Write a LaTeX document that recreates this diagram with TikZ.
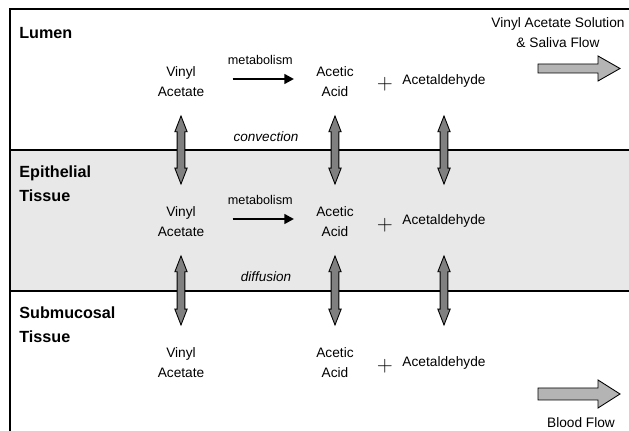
\documentclass[tikz,border=0pt]{standalone}
\usepackage{fontspec}
\setmainfont{Liberation Sans}
\usetikzlibrary{arrows.meta,calc}

\definecolor{bandgray}{HTML}{E8E8E8}
\definecolor{arrowgray}{HTML}{808080}
\definecolor{flowgray}{HTML}{B4B4B4}

\tikzset{
  species/.style={align=center, inner sep=0pt, font=\fontsize{7.8}{11.4}\selectfont},
  zonelabel/.style={anchor=west, align=left, inner sep=0pt, font=\fontsize{9.2}{13.6}\selectfont\bfseries},
  proclabel/.style={inner sep=0pt, font=\fontsize{7.7}{9}\selectfont\itshape},
  metab/.style={-{Triangle[length=5.5pt,width=5.5pt]}, line width=1.5pt, shorten <=0.56cm, shorten >=0.44cm},
  exchangearrow/.style={draw=black, fill=arrowgray, line width=0.5pt, to path={
    let \p1=(\tikztostart), \p2=(\tikztotarget) in
    (\x1,\y1) -- (\x1+3.5pt,\y1-9pt) -- (\x1+2.2pt,\y1-9pt) -- (\x2+2.2pt,\y2+9pt)
    -- (\x2+3.5pt,\y2+9pt) -- (\x2,\y2) -- (\x2-3.5pt,\y2+9pt) -- (\x2-2.2pt,\y2+9pt)
    -- (\x1-2.2pt,\y1-9pt) -- (\x1-3.5pt,\y1-9pt) -- cycle}},
}

\begin{document}
\begin{tikzpicture}[x=0.02cm, y=-0.02cm]
  \useasboundingbox (0,0) rectangle (629,431);

  % layers
  \fill[bandgray] (10,150) rectangle (629,291);
  \draw[line width=0.8pt] (10,431) -- (10,9) -- (629,9);
  \draw[line width=0.8pt] (10,150) -- (629,150);
  \draw[line width=0.8pt] (10,291) -- (629,291);

  \node[zonelabel] (lumen) at (19,33) {Lumen};
  \node[zonelabel] (epi) at (19,184) {Epithelial\\Tissue};
  \node[zonelabel] (sub) at (19,325) {Submucosal\\Tissue};

  % species
  \begin{scope}[every node/.style={species}]
    \node (va1) at (181,82) {Vinyl\\Acetate};
    \node (aa1) at (335,82) {Acetic\\Acid};
    \node (ad1) at (444,81) {Acetaldehyde};

    \node (va2) at (181,222) {Vinyl\\Acetate};
    \node (aa2) at (335,222) {Acetic\\Acid};
    \node (ad2) at (444,221) {Acetaldehyde};

    \node (va3) at (181,363) {Vinyl\\Acetate};
    \node (aa3) at (335,363) {Acetic\\Acid};
    \node (ad3) at (444,363) {Acetaldehyde};

    \node (vasol) at (558,33) {Vinyl Acetate Solution\\\& Saliva Flow};
    \node (blood) at (581,423) {Blood Flow};
  \end{scope}

  \node[font=\large] (plus1) at (385,84) {$+$};
  \node[font=\large] (plus2) at (385,225) {$+$};
  \node[font=\large] (plus3) at (385,366) {$+$};

  \node[proclabel] (conv) at (266,137) {convection};
  \node[proclabel] (diff) at (266,277) {diffusion};

  % reactions
  \draw[metab] ([yshift=1.7pt]va1.east) -- ([yshift=1.7pt]aa1.west)
    node[midway, above=0.26cm, inner sep=0pt, font=\fontsize{7.2}{9}\selectfont] (met1) {metabolism};
  \draw[metab] ([yshift=1.7pt]va2.east) -- ([yshift=1.7pt]aa2.west)
    node[midway, above=0.26cm, inner sep=0pt, font=\fontsize{7.2}{9}\selectfont] (met2) {metabolism};

  % exchange between layers
  \draw[exchangearrow] ($(va1)+(0,34)$) to ($(va2)+(0,-38)$);
  \draw[exchangearrow] ($(aa1)+(0,34)$) to ($(aa2)+(0,-38)$);
  \draw[exchangearrow] ($(ad1)+(0,35)$) to ($(ad2)+(0,-37)$);
  \draw[exchangearrow] ($(va2)+(0,34)$) to ($(va3)+(0,-38)$);
  \draw[exchangearrow] ($(aa2)+(0,34)$) to ($(aa3)+(0,-38)$);
  \draw[exchangearrow] ($(ad2)+(0,35)$) to ($(ad3)+(0,-38)$);

  % flows
  \draw[fill=flowgray, line width=0.5pt] (538,64) -- (598,64) -- (598,56) -- (620,68.5)
    -- (598,81) -- (598,73) -- (538,73) -- cycle;
  \draw[fill=flowgray, line width=0.5pt] (538,388) -- (598,388) -- (598,380) -- (620,394)
    -- (598,408) -- (598,400) -- (538,400) -- cycle;
\end{tikzpicture}
\end{document}
